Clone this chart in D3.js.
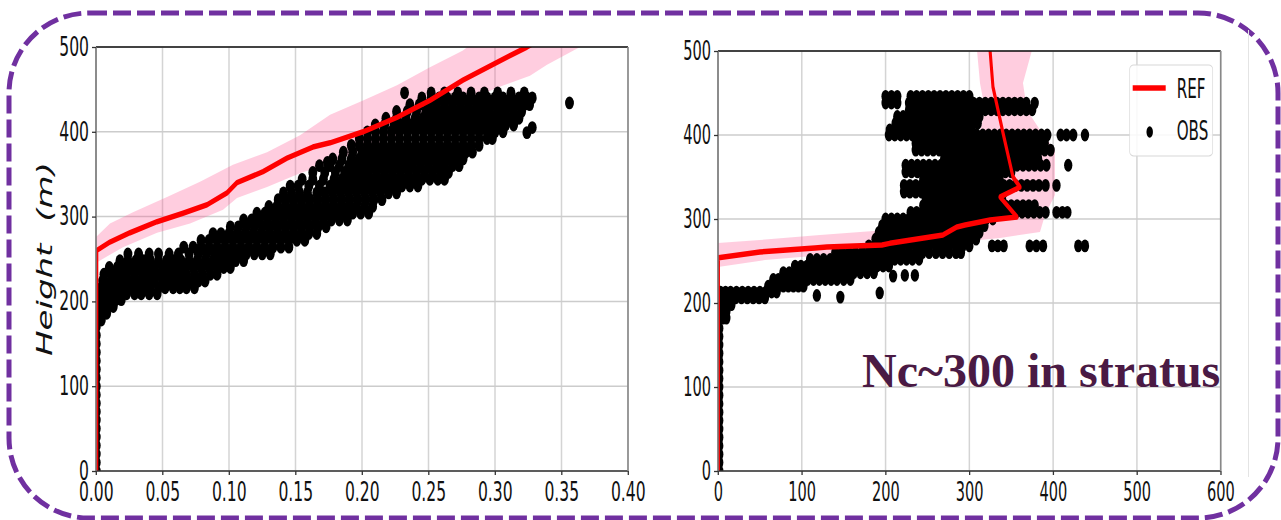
<!DOCTYPE html>
<html>
<head>
<meta charset="utf-8">
<script src="https://cdn.jsdelivr.net/npm/d3@7"></script>
<style>
  html, body { margin: 0; padding: 0; background: #fff; }
  svg { display: block; }
</style>
</head>
<body>
<svg id="chart" width="1281" height="520"></svg>
<script>
// ---------- Shared axis ticks ----------
const heightTicks = [0, 100, 200, 300, 400, 500];
const heightLabels = ["0", "100", "200", "300", "400", "500"];

// ---------- Left panel: liquid water (x) vs height ----------
const lwcTicks = [0, 0.05, 0.10, 0.15, 0.20, 0.25, 0.30, 0.35, 0.40];
const lwcLabels = ["0.00", "0.05", "0.10", "0.15", "0.20", "0.25", "0.30", "0.35", "0.40"];

// REF profile [value, height]
const refLwc = [
  [0.0005, 0], [0.0005, 260], [0.0105, 270], [0.0256, 281], [0.0459, 294], [0.0654, 304],
  [0.0835, 314], [0.0985, 328], [0.106, 340], [0.1256, 353], [0.1436, 369], [0.163, 382],
  [0.176, 387], [0.2008, 400], [0.2263, 417], [0.2511, 437], [0.2759, 461], [0.3015, 482],
  [0.3241, 500], [0.335, 510]
];
// REF spread: left and right edges [value, height]
const lwcBandLeft = [
  [0, 246], [0, 276], [0.0105, 292], [0.0278, 305], [0.0534, 323], [0.0782, 341], [0.103, 361],
  [0.1286, 376], [0.1534, 396], [0.176, 420], [0.2008, 437], [0.2263, 455], [0.2511, 476],
  [0.2759, 496], [0.2835, 505], [0.29, 512]
];
const lwcBandRight = [
  [0.0005, 246], [0.0203, 264], [0.0459, 281], [0.0707, 292], [0.0955, 308], [0.106, 322],
  [0.1286, 335], [0.1534, 351], [0.176, 363], [0.2008, 379], [0.2263, 394], [0.2511, 414],
  [0.2759, 434], [0.3015, 452], [0.3263, 466], [0.3391, 479], [0.3639, 500], [0.375, 512]
];
// OBS below cloud base (value ~0)
const lwcBelowBaseX = 0.0002;
const lwcBelowBaseH = [0, 10, 20, 30, 40, 50, 60, 70, 80, 90, 100, 110, 120, 130, 140, 150, 160, 170];
// OBS in cloud, grouped by height: [height, [values]]
const lwcObsRows = [
  [178, [0.001, 0.004]],
  [186, [0.001, 0.005, 0.008]],
  [194, [0.001, 0.005, 0.009, 0.013]],
  [202, [0.002, 0.006, 0.010, 0.015, 0.019]],
  [209, [0.003, 0.008, 0.013, 0.018, 0.023, 0.029, 0.034, 0.040, 0.046]],
  [216, [0.004, 0.009, 0.014, 0.019, 0.025, 0.030, 0.036, 0.041, 0.047, 0.052, 0.058, 0.063, 0.068, 0.074]],
  [224, [0.005, 0.011, 0.016, 0.022, 0.027, 0.033, 0.039, 0.044, 0.050, 0.055, 0.061, 0.066, 0.072, 0.077, 0.082]],
  [232, [0.006, 0.012, 0.018, 0.023, 0.029, 0.035, 0.040, 0.046, 0.052, 0.057, 0.063, 0.068, 0.074, 0.080, 0.086, 0.091]],
  [240, [0.010, 0.016, 0.021, 0.027, 0.033, 0.038, 0.044, 0.050, 0.055, 0.061, 0.067, 0.073, 0.079, 0.085, 0.091, 0.096, 0.101]],
  [248, [0.018, 0.024, 0.030, 0.036, 0.041, 0.047, 0.053, 0.058, 0.064, 0.070, 0.076, 0.082, 0.088, 0.093, 0.099, 0.105, 0.111]],
  [256, [0.024, 0.032, 0.040, 0.047, 0.055, 0.062, 0.070, 0.077, 0.083, 0.089, 0.095, 0.101, 0.107, 0.113, 0.119, 0.125, 0.131]],
  [264, [0.066, 0.073, 0.079, 0.085, 0.091, 0.097, 0.103, 0.109, 0.115, 0.121, 0.127, 0.133, 0.139, 0.145]],
  [272, [0.079, 0.085, 0.091, 0.097, 0.103, 0.109, 0.115, 0.121, 0.127, 0.133, 0.139, 0.145, 0.151, 0.157]],
  [280, [0.088, 0.094, 0.100, 0.106, 0.112, 0.118, 0.124, 0.130, 0.136, 0.142, 0.148, 0.154, 0.160, 0.166]],
  [288, [0.101, 0.107, 0.113, 0.119, 0.125, 0.131, 0.137, 0.143, 0.149, 0.155, 0.161, 0.167, 0.173]],
  [296, [0.111, 0.117, 0.123, 0.129, 0.135, 0.141, 0.147, 0.153, 0.159, 0.165, 0.171, 0.177, 0.183, 0.189]],
  [304, [0.121, 0.127, 0.133, 0.139, 0.145, 0.151, 0.157, 0.163, 0.169, 0.175, 0.181, 0.187, 0.193, 0.199, 0.205]],
  [312, [0.130, 0.136, 0.142, 0.148, 0.154, 0.160, 0.166, 0.172, 0.178, 0.184, 0.190, 0.196, 0.202, 0.208]],
  [320, [0.137, 0.143, 0.149, 0.155, 0.161, 0.167, 0.173, 0.179, 0.185, 0.191, 0.197, 0.203, 0.209, 0.215]],
  [328, [0.141, 0.147, 0.153, 0.159, 0.166, 0.172, 0.178, 0.184, 0.190, 0.196, 0.202, 0.208, 0.214, 0.220, 0.226]],
  [336, [0.146, 0.152, 0.160, 0.168, 0.176, 0.182, 0.188, 0.194, 0.200, 0.206, 0.212, 0.218, 0.224, 0.230, 0.236, 0.242]],
  [344, [0.155, 0.163, 0.171, 0.179, 0.185, 0.191, 0.197, 0.203, 0.209, 0.215, 0.221, 0.227, 0.233, 0.239, 0.245, 0.251, 0.257, 0.262]],
  [352, [0.163, 0.172, 0.180, 0.187, 0.193, 0.199, 0.205, 0.211, 0.217, 0.223, 0.229, 0.235, 0.241, 0.247, 0.253, 0.259, 0.265]],
  [360, [0.168, 0.176, 0.183, 0.190, 0.196, 0.202, 0.208, 0.214, 0.220, 0.226, 0.232, 0.238, 0.244, 0.250, 0.256, 0.262, 0.268, 0.273]],
  [368, [0.178, 0.185, 0.192, 0.198, 0.204, 0.210, 0.216, 0.222, 0.228, 0.234, 0.240, 0.246, 0.252, 0.258, 0.264, 0.270, 0.276]],
  [376, [0.186, 0.193, 0.200, 0.206, 0.212, 0.218, 0.224, 0.230, 0.236, 0.242, 0.248, 0.254, 0.260, 0.266, 0.272, 0.278, 0.283]],
  [384, [0.192, 0.198, 0.204, 0.210, 0.216, 0.222, 0.228, 0.234, 0.240, 0.246, 0.252, 0.258, 0.264, 0.270, 0.276, 0.282, 0.288]],
  [392, [0.198, 0.204, 0.210, 0.216, 0.222, 0.228, 0.234, 0.240, 0.246, 0.252, 0.258, 0.264, 0.270, 0.276, 0.282, 0.288, 0.294, 0.298]],
  [400, [0.204, 0.210, 0.216, 0.222, 0.228, 0.234, 0.240, 0.246, 0.252, 0.258, 0.264, 0.270, 0.276, 0.282, 0.288, 0.294, 0.300, 0.306]],
  [408, [0.210, 0.217, 0.224, 0.230, 0.236, 0.242, 0.248, 0.254, 0.260, 0.266, 0.272, 0.278, 0.284, 0.290, 0.296, 0.302, 0.308, 0.314]],
  [416, [0.218, 0.226, 0.233, 0.240, 0.246, 0.252, 0.258, 0.264, 0.270, 0.276, 0.282, 0.288, 0.294, 0.300, 0.306, 0.312, 0.318]],
  [424, [0.226, 0.234, 0.241, 0.248, 0.254, 0.260, 0.266, 0.272, 0.278, 0.284, 0.290, 0.296, 0.302, 0.308, 0.314, 0.320]],
  [432, [0.236, 0.243, 0.250, 0.256, 0.262, 0.268, 0.274, 0.280, 0.286, 0.292, 0.298, 0.304, 0.310, 0.316, 0.322, 0.326]],
  [440, [0.245, 0.252, 0.258, 0.264, 0.270, 0.276, 0.282, 0.288, 0.294, 0.300, 0.306, 0.312, 0.318, 0.324, 0.328]],
  [446, [0.252, 0.262, 0.272, 0.282, 0.292, 0.302, 0.312, 0.322]]
];
const lwcObsExtra = [[0.232, 446], [0.356, 434], [0.324, 399], [0.328, 405], [0.281, 379], [0.174, 364]];

// ---------- Right panel: droplet number (x) vs height ----------
const ncTicks = [0, 100, 200, 300, 400, 500, 600];
const ncLabels = ["0", "100", "200", "300", "400", "500", "600"];

const refNc = [
  [0.5, 0], [0.5, 254], [50.1, 260.7], [115.8, 265.5], [130, 266.7], [195.7, 269], [205, 271],
  [268.6, 281], [285.3, 290.5], [294.8, 292.9], [324.7, 298.8], [356.9, 302.4], [336.6, 326.2],
  [360.5, 338], [352.1, 350], [340.2, 402.4], [328.2, 457], [324.7, 501], [323.5, 512]
];
// REF spread outline, traced as one closed polygon [value, height]
const ncBandOutline = [
  [309.1, 512], [309.1, 501.2], [312.7, 461.9], [318.7, 429.8], [310.3, 394], [306.8, 346.4],
  [303.2, 304.8], [265, 289.3], [201.7, 287], [121.7, 281], [50.1, 275], [0, 271.4],
  [0, 242.9], [56.1, 251.2], [155.2, 259.5], [217.2, 265.5], [276.9, 271.4], [336.6, 277.4],
  [384.3, 284.5], [390.3, 304.8], [402.2, 328.6], [402.2, 382.1], [384.3, 406], [368.8, 429.8],
  [364, 461.9], [374.8, 501.2], [378, 512]
];
const ncBelowBaseX = 1.5;
const ncBelowBaseH = [0, 10, 20, 30, 40, 50, 60, 70, 80, 90, 100, 110, 120, 130, 140, 150, 160, 170];
const ncObsRows = [
  [182, [1.5, 6, 10]],
  [190, [1.5, 6, 10]],
  [198, [1.5, 6, 11, 16]],
  [206, [2, 8, 14, 21, 28, 35, 42, 49, 56]],
  [213, [3, 9, 15, 22, 29, 36, 43, 50, 57, 64, 70]],
  [220, [60, 66, 72, 78, 84, 90, 96, 102]],
  [228, [66, 72, 79, 86, 93, 100, 107, 114, 121, 128, 135, 142, 150, 158]],
  [236, [78, 85, 92, 99, 106, 113, 120, 127, 134, 141, 148, 155, 162, 170, 178, 186]],
  [244, [92, 99, 106, 113, 120, 127, 134, 141, 148, 155, 162, 169, 176, 183, 190, 197, 204]],
  [252, [110, 118, 126, 134, 141, 148, 155, 162, 169, 176, 183, 190, 197, 204, 211, 218, 225, 232, 240]],
  [260, [140, 148, 156, 164, 172, 180, 188, 196, 204, 212, 220, 228, 236, 244, 252, 260, 268, 276, 284, 290]],
  [268, [180, 188, 196, 204, 212, 220, 228, 236, 244, 252, 260, 268, 276, 284, 292, 300, 327, 334, 341, 372, 380, 388, 430, 438]],
  [276, [188, 195, 202, 209, 216, 223, 230, 237, 244, 251, 258, 265, 272, 279, 286, 293, 300, 308]],
  [284, [192, 199, 206, 213, 220, 227, 234, 241, 248, 255, 262, 269, 276, 283, 290, 297, 304, 312]],
  [292, [196, 203, 210, 217, 224, 231, 238, 245, 252, 259, 266, 273, 280, 287, 294, 301, 310, 318]],
  [300, [200, 207, 214, 221, 228, 235, 242, 249, 256, 263, 270, 277, 284, 291, 298, 305, 312, 320, 328]],
  [308, [230, 237, 244, 251, 258, 265, 272, 279, 286, 293, 300, 307, 314, 321, 328, 335, 342, 349, 356, 363, 370, 377, 384, 391, 404, 411, 417]],
  [316, [245, 252, 259, 266, 273, 280, 287, 294, 301, 308, 315, 322, 329, 336, 343, 350, 357, 364, 371, 378]],
  [324, [248, 255, 262, 269, 276, 283, 290, 297, 304, 311, 318, 325, 332, 339]],
  [332, [222, 229, 236, 243, 250, 257, 264, 271, 278, 285, 292, 299, 306, 313, 320, 327, 334, 341]],
  [340, [222, 229, 236, 243, 250, 257, 264, 271, 278, 285, 292, 299, 306, 313, 320, 327, 334, 341, 348, 355, 362, 369, 376, 383, 391, 404]],
  [348, [245, 252, 259, 266, 273, 280, 287, 294, 301, 308, 315, 322, 329, 336]],
  [356, [224, 231, 238, 245, 252, 259, 266, 273, 280, 287, 294, 301, 308, 315, 322, 329, 336, 343, 350]],
  [364, [224, 231, 238, 245, 252, 259, 266, 273, 280, 287, 294, 301, 308, 315, 322, 329, 336, 343, 350, 357, 364, 371, 378, 385, 392, 418]],
  [372, [270, 277, 284, 291, 298, 305, 312, 319, 326, 333, 340, 347, 354, 361, 368, 375, 382]],
  [382, [236, 243, 250, 257, 264, 271, 278, 285, 292, 299, 306, 313, 320, 327, 334, 341, 348, 355, 362, 369, 376, 383, 390, 397]],
  [390, [236, 243, 250, 257, 264, 271, 278, 285, 292, 299, 306, 313, 320, 327, 334, 341, 348, 355, 362, 369, 376, 383, 390]],
  [400, [204, 211, 218, 225, 232, 239, 246, 253, 260, 267, 274, 281, 288, 295, 302, 309, 316, 323, 330, 337, 344, 351, 358, 365, 372, 379, 386, 393, 409, 416, 424, 438]],
  [406, [205, 212, 219, 226, 233, 240, 247, 254, 261, 268, 275, 282, 289, 296, 303]],
  [414, [212, 219, 226, 233, 240, 247, 254, 261, 268, 275, 282, 289, 296, 303, 310]],
  [422, [214, 221, 228, 235, 242, 249, 256, 263, 270, 277, 284, 291, 298, 305, 312]],
  [430, [228, 235, 242, 249, 256, 263, 270, 277, 284, 291, 298, 305, 312, 319, 326, 333, 340, 347, 354, 361, 368, 375]],
  [438, [200, 207, 214, 228, 235, 242, 249, 256, 263, 270, 277, 284, 291, 298, 305, 312, 319, 326, 333, 340, 347, 354, 361, 368, 378]],
  [446, [200, 207, 214, 230, 237, 244, 251, 258, 265, 272, 279, 286, 293, 300]]
];
const ncObsExtra = [[118, 209], [146, 207], [193, 212], [209, 232], [223, 233], [235, 233]];

const legendLabels = ["REF", "OBS"];
const noteText = "Nc~300 in stratus";

// ---------- Helpers ----------
function toPoints(belowX, belowH, rows, extra) {
  const pts = belowH.map(h => [belowX, h]);
  rows.forEach(([h, xs]) => xs.forEach(v => pts.push([v, h])));
  return pts.concat(extra);
}

const svg = d3.select("#chart");
const TICK_FONT = "DejaVu Sans, sans-serif";
const DOT_RX = 7.4, DOT_RY = 6.4;

// Rounded dashed frame around both panels
svg.append("rect")
  .attr("x", 9).attr("y", 13).attr("width", 1269).attr("height", 505)
  .attr("rx", 80).attr("ry", 80)
  .attr("fill", "none").attr("stroke", "#7030a0")
  .attr("stroke-width", 5).attr("stroke-dasharray", "18 6");

// Each panel is drawn in a horizontally condensed coordinate frame (scale sx,1)
function drawPanel(p) {
  const sx = p.sx, iw = p.width / sx, ih = p.height;
  const g = svg.append("g").attr("transform", `translate(${p.left},${p.top}) scale(${sx},1)`);
  const x = d3.scaleLinear().domain(p.xDomain).range([0, iw]);
  const y = d3.scaleLinear().domain([0, 500]).range([ih, 0]);

  g.append("clipPath").attr("id", p.id + "-clip")
    .append("rect").attr("width", iw).attr("height", ih);

  // grid
  g.append("g").selectAll("line").data(p.xTicks).join("line")
    .attr("x1", d => x(d)).attr("x2", d => x(d)).attr("y1", 0).attr("y2", ih)
    .attr("stroke", "#d4d4d4").attr("stroke-width", 1.5 / sx);
  g.append("g").selectAll("line").data(heightTicks).join("line")
    .attr("x1", 0).attr("x2", iw).attr("y1", d => y(d)).attr("y2", d => y(d))
    .attr("stroke", "#cccccc").attr("stroke-width", 1.5);

  const plot = g.append("g").attr("clip-path", `url(#${p.id}-clip)`);
  const line = d3.line().x(d => x(d[0])).y(d => y(d[1]));

  // REF spread
  plot.append("path").attr("d", line(p.band) + "Z")
    .attr("fill", "#ff5a96").attr("fill-opacity", 0.3).attr("stroke", "none");

  // OBS
  plot.append("g").selectAll("ellipse").data(p.obs).join("ellipse")
    .attr("cx", d => x(d[0])).attr("cy", d => y(d[1]))
    .attr("rx", DOT_RX).attr("ry", DOT_RY)
    .attr("fill", "#000");

  // REF
  plot.append("path").datum(p.ref).attr("d", line)
    .attr("fill", "none").attr("stroke", "#ff0000").attr("stroke-width", 5.5)
    .attr("stroke-linejoin", "round");

  // axes frame
  g.append("line").attr("x1", 0).attr("x2", iw).attr("y1", 0).attr("y2", 0)
    .attr("stroke", "#111").attr("stroke-width", 1.3);
  g.append("line").attr("x1", 0).attr("x2", iw).attr("y1", ih).attr("y2", ih)
    .attr("stroke", "#333").attr("stroke-width", 1.6);
  g.append("line").attr("x1", 0).attr("x2", 0).attr("y1", 0).attr("y2", ih)
    .attr("stroke", "#777").attr("stroke-width", 1.6 / sx);
  g.append("line").attr("x1", iw).attr("x2", iw).attr("y1", 0).attr("y2", ih)
    .attr("stroke", "#888").attr("stroke-width", 1.6 / sx);

  // x axis
  const ax = g.append("g").attr("transform", `translate(0,${ih})`)
    .call(d3.axisBottom(x).tickValues(p.xTicks).tickFormat((d, i) => p.xLabels[i])
      .tickSize(4).tickSizeOuter(0).tickPadding(8));
  ax.select(".domain").remove();
  ax.selectAll("line").attr("stroke", "#333").attr("stroke-width", 1.3 / sx);
  ax.selectAll("text").attr("font-size", 26).attr("font-family", TICK_FONT).attr("fill", "#111");

  // y axis
  const ay = g.append("g")
    .call(d3.axisLeft(y).tickValues(heightTicks).tickFormat((d, i) => heightLabels[i])
      .tickSize(4 / sx).tickSizeOuter(0).tickPadding(3 / sx));
  ay.select(".domain").remove();
  ay.selectAll("line").attr("stroke", "#333").attr("stroke-width", 1.3);
  ay.selectAll("text").attr("font-size", 26).attr("font-family", TICK_FONT).attr("fill", "#111");

  return { g, x, y, iw, ih, sx };
}

// Left panel
const lwcObs = toPoints(lwcBelowBaseX, lwcBelowBaseH, lwcObsRows, lwcObsExtra);
drawPanel({
  id: "lwc", left: 96, top: 47, width: 532, height: 424, sx: 0.6,
  xDomain: [0, 0.4], xTicks: lwcTicks, xLabels: lwcLabels,
  band: lwcBandLeft.concat(lwcBandRight.slice().reverse()),
  obs: lwcObs, ref: refLwc
});

// Height label (italic, condensed like the tick labels)
const yl = svg.append("text")
  .attr("transform", "translate(52,259) scale(0.6,1) rotate(-90)")
  .attr("text-anchor", "middle")
  .attr("font-family", "DejaVu Sans, sans-serif").attr("font-style", "italic")
  .attr("font-size", 34).attr("fill", "#111");
yl.append("tspan").text("Height");
yl.append("tspan").attr("dx", 22).text("(m)");

// Right panel
const ncObs = toPoints(ncBelowBaseX, ncBelowBaseH, ncObsRows, ncObsExtra);
const right = drawPanel({
  id: "nc", left: 718, top: 51, width: 502.7, height: 420, sx: 0.56,
  xDomain: [0, 600], xTicks: ncTicks, xLabels: ncLabels,
  band: ncBandOutline, obs: ncObs, ref: refNc
});

// Legend
{
  const s = right.sx;
  const bw = 83 / s, bx = right.iw - 8 / s - bw, by = 14, bh = 91;
  const lg = right.g.append("g");
  lg.append("rect").attr("x", bx).attr("y", by).attr("width", bw).attr("height", bh)
    .attr("rx", 4 / s).attr("ry", 4)
    .attr("fill", "#fff").attr("fill-opacity", 0.85)
    .attr("stroke", "#d8d8d8").attr("stroke-width", 1.2);
  lg.append("line").attr("x1", bx + 3 / s).attr("x2", bx + 36 / s).attr("y1", by + 23).attr("y2", by + 23)
    .attr("stroke", "#ff0000").attr("stroke-width", 5.5);
  lg.append("circle").attr("cx", bx + 20 / s).attr("cy", by + 67).attr("r", 5.8).attr("fill", "#000");
  lg.selectAll("text").data(legendLabels).join("text")
    .attr("x", bx + 47 / s).attr("y", (d, i) => by + 23 + i * 42)
    .attr("dy", "0.36em")
    .attr("font-family", TICK_FONT).attr("font-size", 27).attr("fill", "#111")
    .text(d => d);
}

// faint edge of the right figure
svg.append("line").attr("x1", 1248.5).attr("x2", 1248.5).attr("y1", 30).attr("y2", 477)
  .attr("stroke", "#e4e4e4").attr("stroke-width", 1);

// Annotation
svg.append("text")
  .attr("x", 862).attr("y", 387)
  .attr("font-family", "Liberation Serif, Times New Roman, serif")
  .attr("font-weight", "bold").attr("font-size", 48)
  .attr("fill", "#4a1a44")
  .text(noteText);
</script>
</body>
</html>
